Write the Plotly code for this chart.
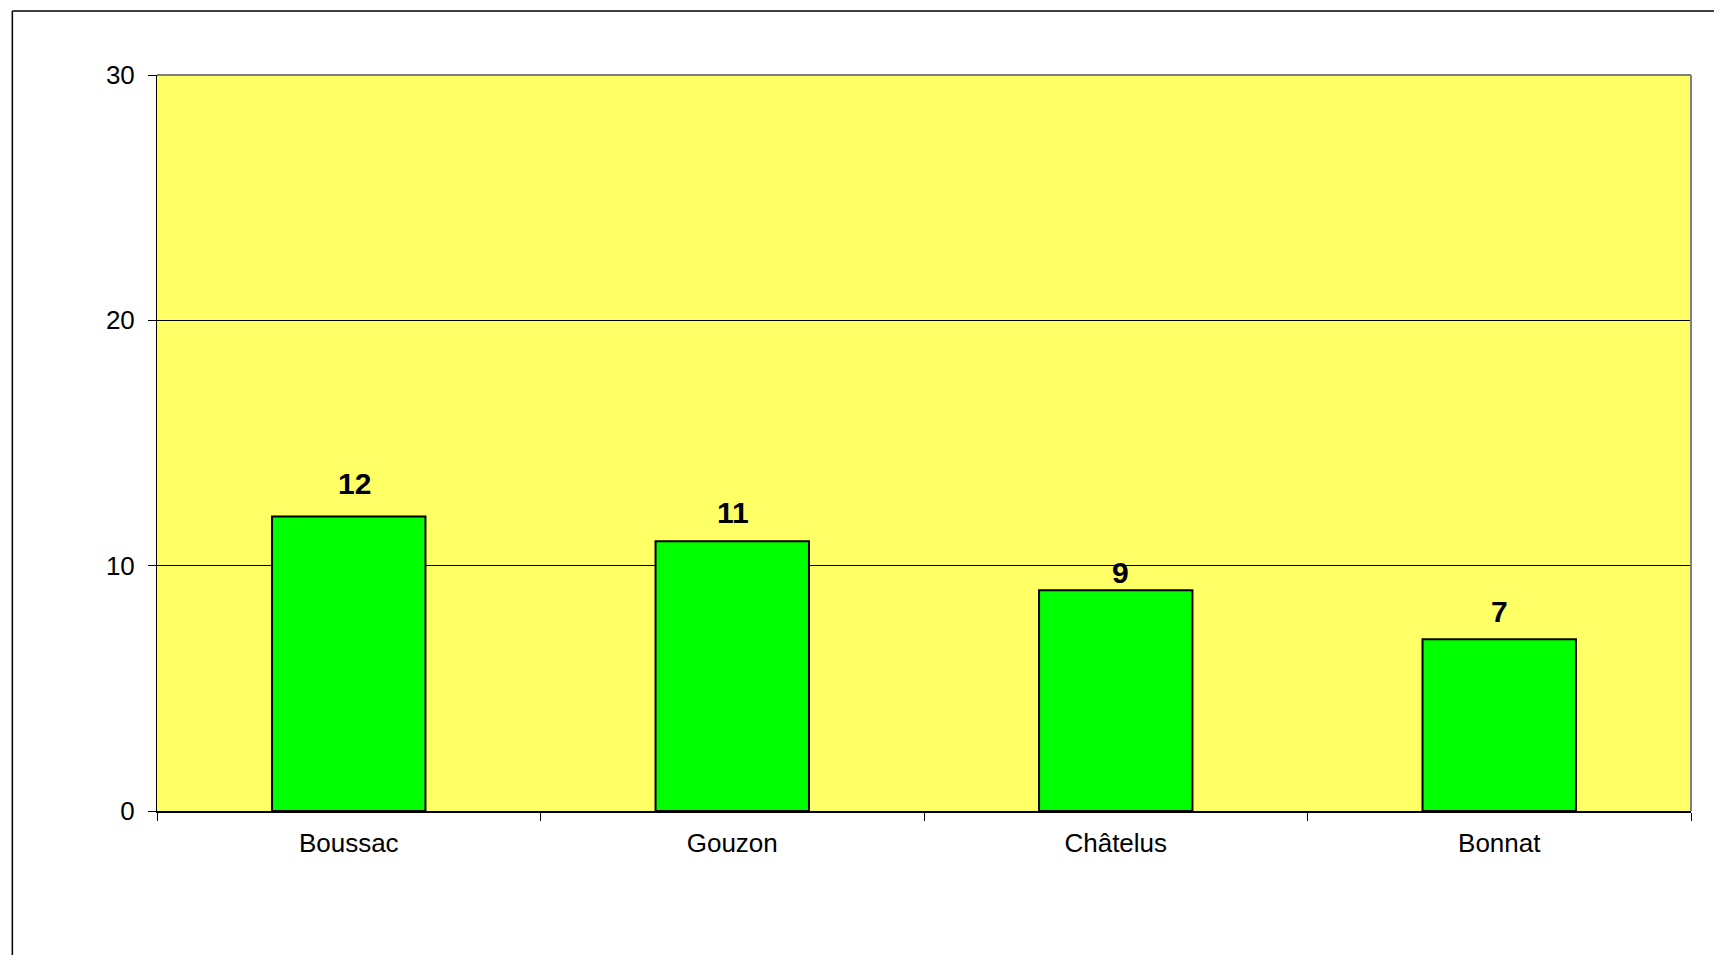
import plotly.graph_objects as go

categories = ["Boussac", "Gouzon", "Châtelus", "Bonnat"]
values = [12, 11, 9, 7]
y_ticks = [0, 10, 20, 30]

# pixel offsets of value labels relative to bar tops (style only)
label_yshift = [33, 29, 18, 28]
label_xshift = [6, 1, 5, 0]

fig = go.Figure()
fig.add_trace(go.Bar(
    x=categories, y=values,
    width=0.40,
    marker=dict(color="#00FF00", line=dict(color="black", width=2)),
    hoverinfo="skip",
))

for c, v, sy, sx in zip(categories, values, label_yshift, label_xshift):
    fig.add_annotation(
        x=c, y=v, text=f"<b>{v}</b>", showarrow=False,
        yanchor="middle", yshift=sy, xshift=sx,
        font=dict(family="Liberation Sans, Arial", size=30, color="black"),
    )

fig.update_layout(
    width=1722, height=955,
    margin=dict(l=149, r=39, t=67, b=152),
    paper_bgcolor="white",
    plot_bgcolor="#FFFF66",
    showlegend=False,
    font=dict(family="Liberation Sans, Arial", size=26, color="black"),
)

fig.update_yaxes(
    range=[0, 30], tickvals=y_ticks,
    showgrid=True, gridcolor="black", gridwidth=1,
    ticks="outside", ticklen=8, tickcolor="black", tickwidth=1,
    ticklabelstandoff=8,
    showline=True, linecolor="black", linewidth=1,
    zeroline=False,
    tickfont=dict(family="Liberation Sans, Arial", size=26, color="black"),
)
fig.update_xaxes(
    type="category",
    showgrid=False,
    ticks="outside", ticklen=8, tickcolor="black", tickwidth=1,
    tickson="boundaries",
    ticklabelstandoff=8,
    showline=True, linecolor="black", linewidth=2,
    tickfont=dict(family="Liberation Sans, Arial", size=26, color="black"),
)

# gray top and right border of plot area
fig.add_shape(type="line", xref="paper", yref="paper", x0=0, x1=1, y0=1, y1=1,
              line=dict(color="#808080", width=2))
fig.add_shape(type="line", xref="paper", yref="paper", x0=1, x1=1, y0=0, y1=1,
              line=dict(color="#808080", width=2))

# outer chart frame (top and left visible)
fig.add_shape(type="line", xref="paper", yref="paper", x0=-0.0943, x1=1.2, y0=1.087, y1=1.087,
              line=dict(color="black", width=1.5))
fig.add_shape(type="line", xref="paper", yref="paper", x0=-0.0943, x1=-0.0943, y0=1.087, y1=-0.3,
              line=dict(color="black", width=1.5))

fig.write_html("out.html")
